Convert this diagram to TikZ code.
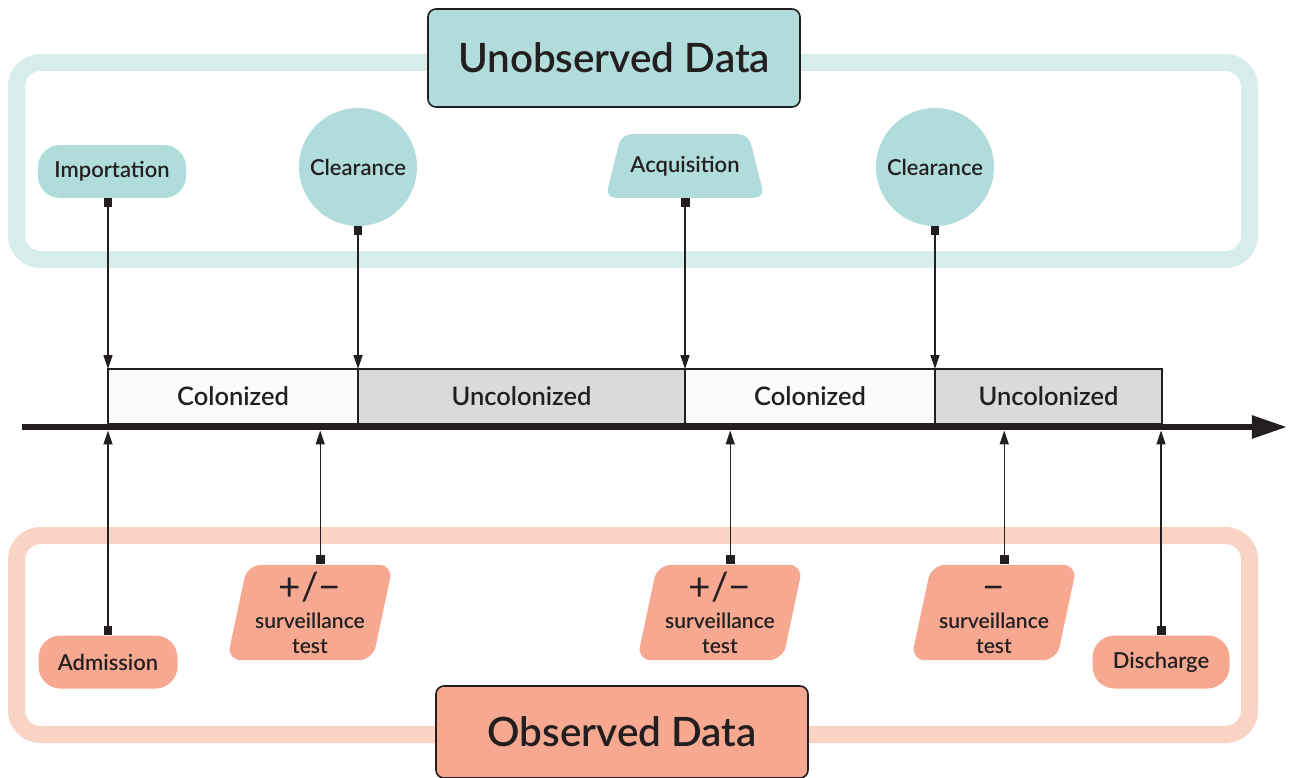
\documentclass[tikz,border=0pt]{standalone}
\usepackage{fontspec}
\setmainfont{Lato}
\newfontfamily\medfont{Lato-Semibold}[Extension=.ttf]
\usetikzlibrary{arrows.meta,positioning,calc,shapes.geometric}
\definecolor{tealfill}{HTML}{B0DDDC}
\definecolor{tealframe}{HTML}{D6EDEB}
\definecolor{salmonfill}{HTML}{F6A990}
\definecolor{salmonframe}{HTML}{F9D3C4}
\definecolor{ink}{HTML}{231F20}
\definecolor{uncol}{HTML}{D9DADC}
\definecolor{colz}{HTML}{FBFBFB}
\newcommand{\px}{0.02cm}
\tikzset{
  bgframe/.style={line width=17*\px,rounded corners=24*\px},
  titleblk/.style={draw=ink,line width=1.6*\px,rounded corners=8*\px,minimum width=372*\px,text=ink,
    font=\medfont\fontsize{23}{27}\selectfont},
  pillblk/.style={rounded corners=22*\px,minimum height=53*\px,inner sep=0pt,text=ink,
    font=\medfont\fontsize{12.5}{15}\selectfont},
  circblk/.style={circle,fill=tealfill,minimum size=118*\px,inner sep=0pt,text=ink,
    font=\medfont\fontsize{12.5}{15}\selectfont},
  acqblk/.style={trapezium,trapezium left angle=76,trapezium right angle=76,trapezium stretches body=true,
    fill=tealfill,rounded corners=10*\px,minimum width=159*\px,inner xsep=2pt,inner ysep=12.4pt,text=ink,
    font=\medfont\fontsize{12.5}{15}\selectfont},
  testblk/.style={trapezium,trapezium left angle=78,trapezium right angle=102,trapezium stretches body=true,
    fill=salmonfill,rounded corners=14*\px,minimum width=166*\px,inner xsep=2pt,inner ysep=4pt,
    align=center,text=ink,font=\medfont\fontsize{12}{14}\selectfont},
  stateblk/.style={draw=ink,line width=1.5*\px,minimum height=55*\px,inner sep=0pt,outer sep=0pt,text=ink,
    font=\medfont\fontsize{14.5}{17}\selectfont},
  conn/.style={ink,line width=1.3*\px,{Square[length=5.1pt,width=5.1pt]}-{Triangle[length=7.9pt,width=5.1pt]}},
  timeline/.style={ink,line width=6*\px,-{Triangle[length=20pt,width=12.5pt]}}
}
\newcommand{\pmsign}{{\rmfamily\fontsize{22}{22}\selectfont +/−}}
\newcommand{\mnsign}{{\rmfamily\fontsize{22}{22}\selectfont \vphantom{/}−}}

\begin{document}
\begin{tikzpicture}[x=\px,y=-\px]
  \useasboundingbox (0,0) rectangle (1290,777);
  \draw[bgframe,tealframe] (16.5,62.5) rectangle (1249.5,259.5);
  \draw[bgframe,salmonframe] (16.5,535.5) rectangle (1249.5,734.5);

  \node[titleblk,fill=tealfill,minimum height=98*\px] (unobs) at (614,58) {Unobserved Data};
  \node[titleblk,fill=salmonfill,minimum height=92*\px] (obs) at (622,732) {Observed Data};

  \node[pillblk,fill=tealfill,minimum width=148*\px] (imp) at (112,171.5) {Importation};
  \node[circblk] (clr1) at (358,167) {Clearance};
  \node[acqblk] (acq) at (685,166) {Acquisition};
  \node[circblk] (clr2) at (935,167) {Clearance};

  \coordinate (tl0) at (22,427);
  \coordinate (tl1) at (1287,427);
  \coordinate (tlb) at (0,430.5);
  \draw[timeline] (tl0) -- (tl1);

  \node[stateblk,fill=colz,minimum width=250*\px,anchor=north west] (col1) at (108,369) {Colonized};
  \node[stateblk,fill=uncol,minimum width=327*\px,right=0pt of col1] (unc1) {Uncolonized};
  \node[stateblk,fill=colz,minimum width=250*\px,right=0pt of unc1] (col2) {Colonized};
  \node[stateblk,fill=uncol,minimum width=227*\px,right=0pt of col2] (unc2) {Uncolonized};

  \node[pillblk,fill=salmonfill,minimum width=139*\px] (adm) at (108,662) {Admission};
  \node[testblk] (ts1) at (310,612.5) {\pmsign\\[2pt]surveillance\\test};
  \node[testblk] (ts2) at (720,612.5) {\pmsign\\[2pt]surveillance\\test};
  \node[testblk] (ts3) at (994,612.5) {\mnsign\\[2pt]surveillance\\test};
  \node[pillblk,fill=salmonfill,minimum width=137*\px] (dis) at (1161,662) {Discharge};

  \draw[conn] (imp.south -| col1.north west) -- (col1.north west);
  \draw[conn] (clr1.south) -- (clr1.south |- col1.north east);
  \draw[conn] (acq.south) -- (acq.south |- col2.north west);
  \draw[conn] (clr2.south) -- (clr2.south |- col2.north east);

  \coordinate (ts1t) at ($(ts1.top left corner)!0.5!(ts1.top right corner)$);
  \coordinate (ts2t) at ($(ts2.top left corner)!0.5!(ts2.top right corner)$);
  \coordinate (ts3t) at ($(ts3.top left corner)!0.5!(ts3.top right corner)$);
  \draw[conn] (adm.north) -- (adm.north |- tlb);
  \draw[conn] (ts1t) -- (ts1t |- tlb);
  \draw[conn] (ts2t) -- (ts2t |- tlb);
  \draw[conn] (ts3t) -- (ts3t |- tlb);
  \draw[conn] (dis.north) -- (dis.north |- tlb);
\end{tikzpicture}
\end{document}
